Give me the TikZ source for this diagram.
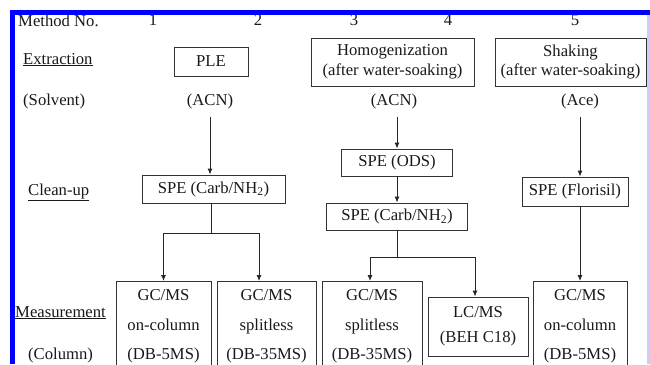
\documentclass[tikz,border=0pt]{standalone}
\usepackage{fontspec}
\setmainfont{Liberation Serif}
\usetikzlibrary{arrows.meta}

\tikzset{
	procbox/.style={draw=black!80, line width=0.9pt, minimum height=28, inner sep=0pt},
	colbox/.style={draw=black!80, line width=0.9pt, anchor=north, align=center,
		inner xsep=0pt, inner ysep=8.5pt, font=\fontsize{16.65}{29.5}\selectfont},
	rowlbl/.style={anchor=base west, inner sep=0pt},
	solvlbl/.style={anchor=base, inner sep=0pt, outer ysep=8pt},
	arr/.style={-{Latex[length=6pt,width=5pt]}, line width=0.9pt, black!85},
	conn/.style={line width=0.9pt, black!85}
}

\begin{document}
\begin{tikzpicture}[x=1pt, y=-1pt, font=\fontsize{16.65}{19.5}\selectfont, text=black!90]
		\useasboundingbox (0,0) rectangle (650,364);
		\clip (0,0) rectangle (650,364);
		\begin{scope}
			\node[rowlbl] (methodno) at (18,26.5) {Method No.};
			\foreach \i/\x in {1/153, 2/258, 3/354, 4/448, 5/575} {
				\node[anchor=base, inner sep=0pt] (no\i) at (\x,25.5) {\i};
			}
			\node[rowlbl] (extr)   at (23,64)  {\underline{Extraction}};
			\node[rowlbl] (solv)   at (23,105) {(Solvent)};
			\node[rowlbl] (clean)  at (28,195) {\underline{Clean-up}};
			\node[rowlbl] (meas)   at (15,317) {\underline{Measurement}};
			\node[rowlbl] (column) at (28,359.5) {(Column)};

			% extraction
			\node[procbox, minimum width=74, minimum height=29] (ple) at (211,61.5) {PLE};
			\node[procbox, minimum width=163, minimum height=48, align=center] (homog) at (392.5,62)
				{Homogenization\\(after water-soaking)};
			\node[procbox, minimum width=151, minimum height=48, align=center] (shak) at (570.5,62)
				{Shaking\\(after water-soaking)};
			\node[solvlbl] (acn1) at (210,105) {(ACN)};
			\node[solvlbl] (acn2) at (394,105) {(ACN)};
			\node[solvlbl] (ace)  at (580,105) {(Ace)};

			% clean-up
			\node[procbox, minimum width=143] (carbA) at (213.5,189) {SPE (Carb/NH\textsubscript{2})};
			\node[procbox, minimum width=111, minimum height=27] (ods) at (397,162.5) {SPE (ODS)};
			\node[procbox, minimum width=141, minimum height=27] (carbB) at (397,216.5) {SPE (Carb/NH\textsubscript{2})};
			\node[procbox, minimum width=106, minimum height=29] (flor) at (575,191.5) {SPE (Florisil)};

			% measurement
			\node[colbox, minimum width=95]  (gc1) at (163.5,281) {GC/MS\\on-column\\(DB-5MS)};
			\node[colbox, minimum width=99]  (gc2) at (266.5,281) {GC/MS\\splitless\\(DB-35MS)};
			\node[colbox, minimum width=100] (gc3) at (372,281)   {GC/MS\\splitless\\(DB-35MS)};
			\node[procbox, minimum width=100, minimum height=59, align=center,
				font=\fontsize{16.65}{24.5}\selectfont] (lc) at (478,326.5) {LC/MS\\(BEH C18)};
			\node[colbox, minimum width=94]  (gc5) at (580,281)   {GC/MS\\on-column\\(DB-5MS)};

			% connectors
			\coordinate (jA) at (211,233);
			\coordinate (jB) at (397,257);
			\draw[arr] (acn1.south) -- (acn1.south |- carbA.north);
			\draw[conn] (carbA.south -| jA) -- (jA);
			\draw[arr] (jA) -| (gc1.north);
			\draw[arr] (jA) -| ([xshift=-7.5pt]gc2.north);
			\draw[arr] (acn2.south -| ods.north) -- (ods.north);
			\draw[arr] (ods) -- (carbB);
			\draw[conn] (carbB.south) -- (jB);
			\draw[arr] (jB) -| ([xshift=-2pt]gc3.north);
			\draw[arr] (jB) -| ([xshift=-3pt]lc.north);
			\draw[arr] (ace.south) -- (ace.south |- flor.north);
			\draw[arr] (flor.south -| ace) -- (gc5.north);

			% frame
			\fill[blue] (10,10) rectangle (650,15);
			\fill[blue] (10,10) rectangle (15,364);
			\fill[blue!20] (647,15) rectangle (650,364);
		\end{scope}
	\end{tikzpicture}
\end{document}
